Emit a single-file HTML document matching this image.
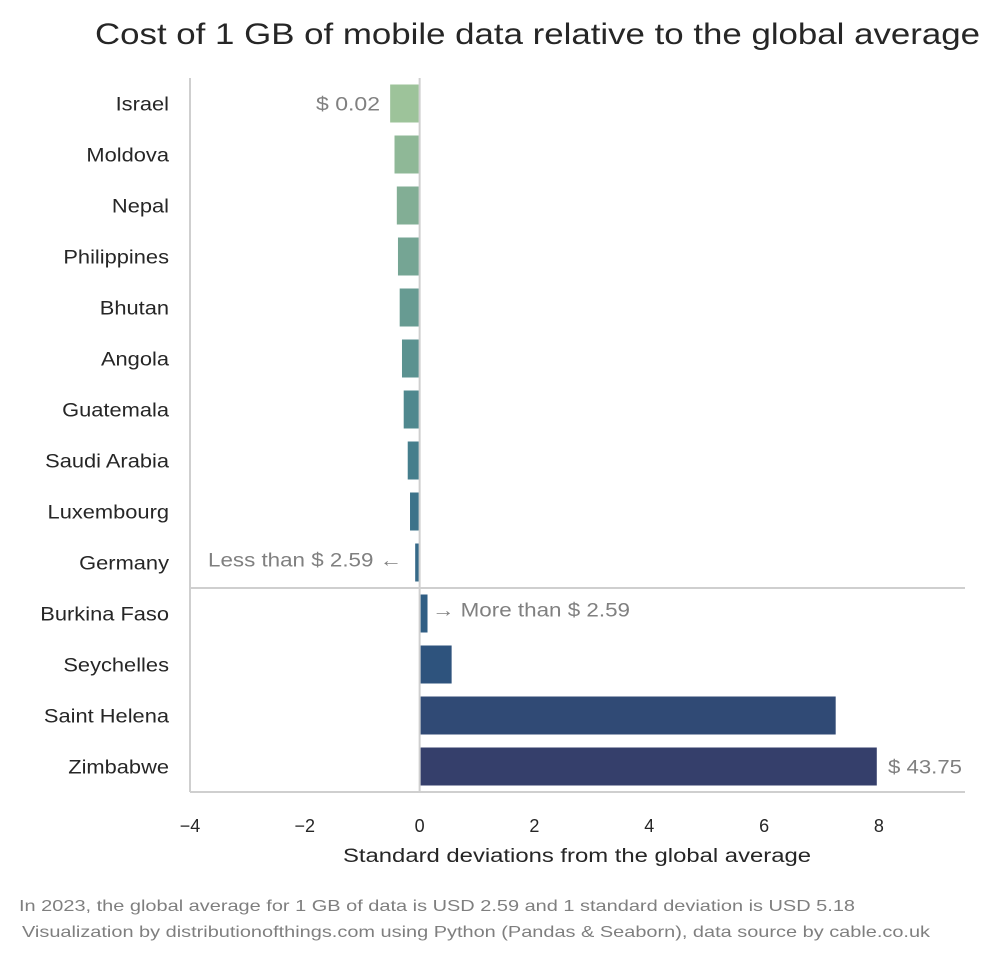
<!DOCTYPE html>
<html><head><meta charset="utf-8"><style>
body{margin:0;background:#fff;}
svg{display:block;font-family:"Liberation Sans",sans-serif;}
</style></head><body>
<svg id="chart" width="1000" height="960" viewBox="0 0 1000 960">
<text x="95" y="44" font-size="30" fill="#262626" textLength="885" lengthAdjust="spacingAndGlyphs">Cost of 1 GB of mobile data relative to the global average</text>
<g id="plot"></g>
<text x="343" y="862" font-size="19" fill="#262626" textLength="468" lengthAdjust="spacingAndGlyphs">Standard deviations from the global average</text>
<text x="19" y="911" font-size="16" fill="#7f7f7f" textLength="836" lengthAdjust="spacingAndGlyphs">In 2023, the global average for 1 GB of data is USD 2.59 and 1 standard deviation is USD 5.18</text>
<text x="22" y="937" font-size="16" fill="#7f7f7f" textLength="908" lengthAdjust="spacingAndGlyphs">Visualization by distributionofthings.com using Python (Pandas &amp; Seaborn), data source by cable.co.uk</text>
</svg>
<script>
const countries=["Israel","Moldova","Nepal","Philippines","Bhutan","Angola","Guatemala","Saudi Arabia","Luxembourg","Germany","Burkina Faso","Seychelles","Saint Helena","Zimbabwe"];
const values=[-0.496,-0.42,-0.38,-0.36,-0.33,-0.29,-0.26,-0.19,-0.15,-0.06,0.12,0.54,7.23,7.946];
const colors=["#9dc39a","#8fb897","#82ae95","#75a594","#679b92","#5b9290","#4f888e","#457e8c","#3d738a","#366988","#305e84","#2e537d","#304a75","#353f6b"];
const xTicks=[-4,-2,0,2,4,6,8];
const NS="http://www.w3.org/2000/svg";
const g=document.getElementById("plot");
const x0=190,x1=965,yTop=78,yBot=792,xmin=-4,xmax=9.5;
const X=v=>x0+(v-xmin)/(xmax-xmin)*(x1-x0);
const step=(yBot-yTop)/countries.length;
const Yc=i=>yTop+step*(i+0.5);
function mk(t,a){const e=document.createElementNS(NS,t);for(const k in a)e.setAttribute(k,a[k]);g.appendChild(e);return e;}
let e=mk("line",{x1:X(0),x2:X(0),y1:yTop,y2:yBot,stroke:"#cfcfcf","stroke-width":2});


countries.forEach((c,i)=>{
  const v=values[i],bh=38;
  const xa=v<0?X(v):X(0)+1,w=Math.abs(X(v)-X(0));
  const r=mk("rect",{x:v<0?xa-1:xa,y:Yc(i)-bh/2,width:Math.max(w,1.5),height:bh,fill:colors[i]});
  
  
  const t=mk("text",{x:0,y:0,"font-size":19,fill:"#262626","text-anchor":"end",transform:"translate(169,"+(Yc(i)+7)+") scale(1.15,1)"});
  t.textContent=c;
  
  
});
const ydiv=yTop+step*10;
e=mk("line",{x1:x0,x2:x1,y1:ydiv,y2:ydiv,stroke:"#cfcfcf","stroke-width":2});


e=mk("line",{x1:x0,x2:x0,y1:yTop,y2:yBot,stroke:"#cfcfcf","stroke-width":2});


e=mk("line",{x1:x0,x2:x1,y1:yBot,y2:yBot,stroke:"#cfcfcf","stroke-width":2});


xTicks.forEach(v=>{
  const t=mk("text",{x:X(v),y:832,"font-size":18,fill:"#262626","text-anchor":"middle"});
  t.textContent=v<0?"\u2212"+Math.abs(v):String(v);
  
  
});
function ann(txt,x,y,len,name){const t=mk("text",{x:x,y:y,"font-size":19,fill:"#808080",textLength:len,lengthAdjust:"spacingAndGlyphs"});t.textContent=txt;

}
ann("$ 0.02",316,Yc(0)+7,64,"label-min-cost");
ann("$ 43.75",888,Yc(13)+7,74,"label-max-cost");
ann("Less than $ 2.59 \u2190",208,Yc(9)+4,194,"label-less-than");
ann("\u2192 More than $ 2.59",432,Yc(10)+3,198,"label-more-than");
</script>
</body></html>
